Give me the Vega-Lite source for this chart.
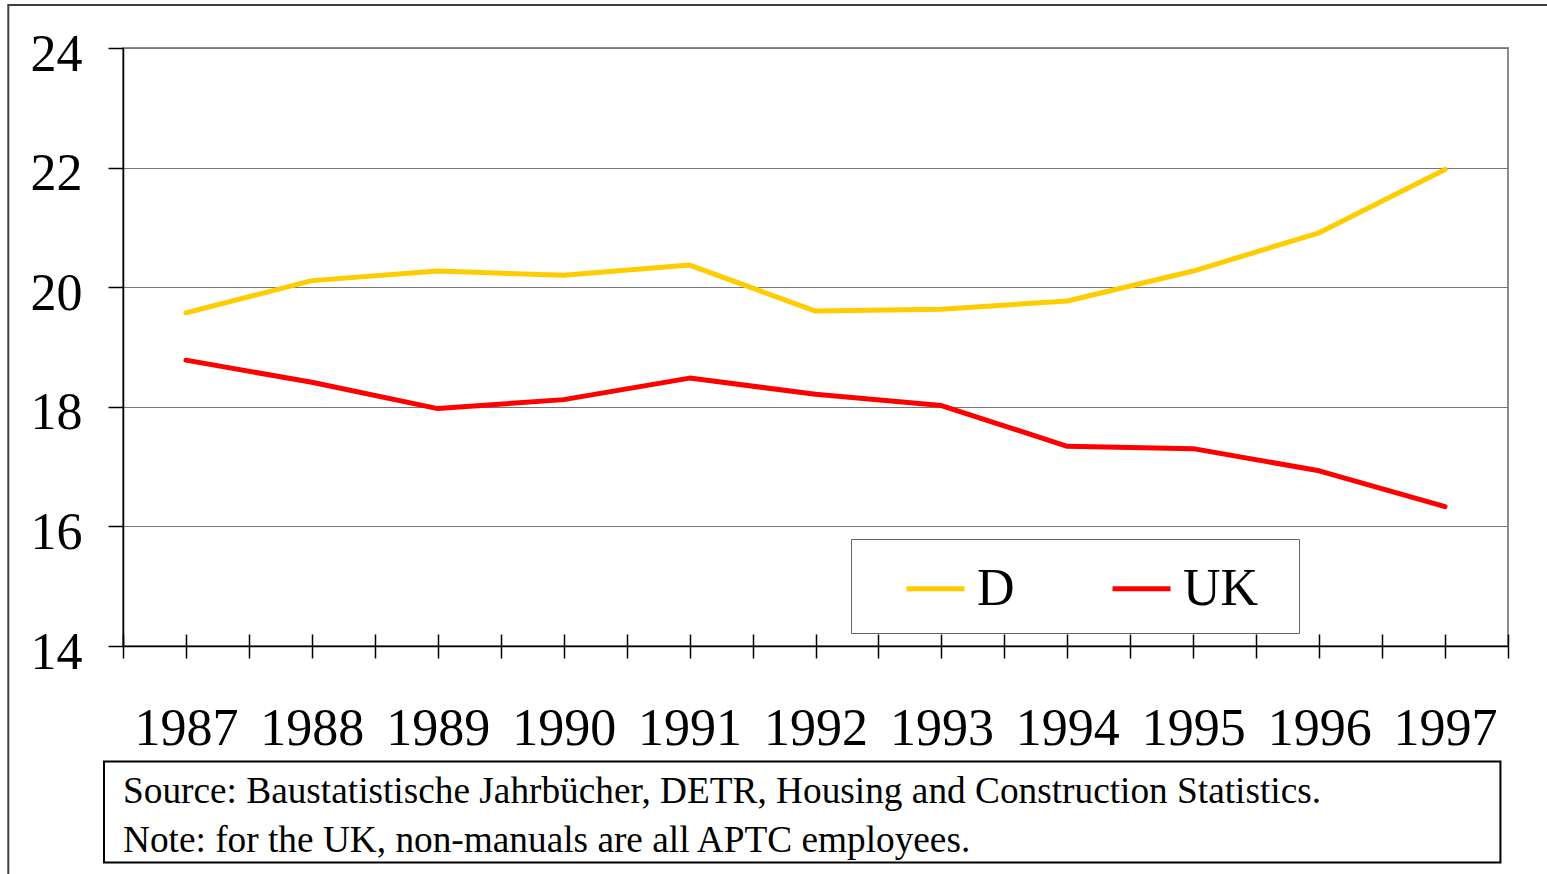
{
  "$schema": "https://vega.github.io/schema/vega-lite/v6.json",
  "width": 1385,
  "height": 598,
  "autosize": "none",
  "padding": {"left": 123, "top": 48, "right": 39, "bottom": 228},
  "background": "white",
  "config": {
    "font": "Liberation Serif",
    "view": {"stroke": "#8c8c8c", "strokeWidth": 2},
    "axis": {
      "domainColor": "black",
      "domainWidth": 1.5,
      "tickColor": "black",
      "tickWidth": 1.5,
      "labelColor": "black",
      "labelFont": "Liberation Serif",
      "labelFontSize": 52,
      "gridColor": "#777777",
      "gridWidth": 1.2
    }
  },
  "resolve": {"axis": {"x": "independent"}},
  "layer": [
    {
      "data": {
        "values": [
          {"year": 1987, "country": "D", "value": 19.57},
          {"year": 1988, "country": "D", "value": 20.11},
          {"year": 1989, "country": "D", "value": 20.27},
          {"year": 1990, "country": "D", "value": 20.2},
          {"year": 1991, "country": "D", "value": 20.37},
          {"year": 1992, "country": "D", "value": 19.6},
          {"year": 1993, "country": "D", "value": 19.63},
          {"year": 1994, "country": "D", "value": 19.77},
          {"year": 1995, "country": "D", "value": 20.27},
          {"year": 1996, "country": "D", "value": 20.91},
          {"year": 1997, "country": "D", "value": 21.97},
          {"year": 1987, "country": "UK", "value": 18.78},
          {"year": 1988, "country": "UK", "value": 18.41},
          {"year": 1989, "country": "UK", "value": 17.97},
          {"year": 1990, "country": "UK", "value": 18.12},
          {"year": 1991, "country": "UK", "value": 18.48},
          {"year": 1992, "country": "UK", "value": 18.21},
          {"year": 1993, "country": "UK", "value": 18.02},
          {"year": 1994, "country": "UK", "value": 17.34},
          {"year": 1995, "country": "UK", "value": 17.3},
          {"year": 1996, "country": "UK", "value": 16.93},
          {"year": 1997, "country": "UK", "value": 16.33}
        ]
      },
      "mark": {"type": "line", "strokeWidth": 5, "strokeCap": "round", "strokeJoin": "round"},
      "encoding": {
        "x": {
          "field": "year",
          "type": "quantitative",
          "scale": {"domain": [1986.5, 1997.5], "nice": false, "zero": false},
          "axis": {
            "orient": "bottom",
            "title": null,
            "values": [1986.5, 1987, 1987.5, 1988, 1988.5, 1989, 1989.5, 1990, 1990.5, 1991, 1991.5, 1992, 1992.5, 1993, 1993.5, 1994, 1994.5, 1995, 1995.5, 1996, 1996.5, 1997, 1997.5],
            "tickSize": 12,
            "labelExpr": "datum.value % 1 === 0 ? format(datum.value, 'd') : ''",
            "labelBaseline": "alphabetic",
            "labelPadding": 86,
            "labelOverlap": false,
            "labelFlush": false,
            "grid": false
          }
        },
        "y": {
          "field": "value",
          "type": "quantitative",
          "scale": {"domain": [14, 24], "nice": false, "zero": false},
          "axis": {
            "title": null,
            "values": [14, 16, 18, 20, 22, 24],
            "format": "d",
            "tickSize": 15,
            "labelPadding": 26,
            "labelBaseline": "alphabetic",
            "labelOffset": 22,
            "grid": true
          }
        },
        "color": {
          "field": "country",
          "type": "nominal",
          "scale": {"domain": ["D", "UK"], "range": ["#FFCC00", "#FF0000"]},
          "legend": {
            "title": " ",
            "titleOrient": "right",
            "titleFontSize": 1,
            "titlePadding": 23,
            "orient": "none",
            "legendX": 728,
            "legendY": 491,
            "direction": "horizontal",
            "symbolType": "stroke",
            "symbolSize": 3364,
            "symbolStrokeWidth": 5,
            "labelFont": "Liberation Serif",
            "labelFontSize": 52,
            "labelColor": "black",
            "labelOffset": 10,
            "columnPadding": 60,
            "padding": 18,
            "strokeColor": "#666666",
            "fillColor": "white",
            "symbolOffset": 35
          }
        }
      }
    },
    {
      "data": {"values": [{}]},
      "mark": {"type": "rect", "fill": "transparent", "stroke": "#404040", "strokeWidth": 2, "clip": false},
      "encoding": {
        "x": {"datum": 1985.589, "type": "quantitative", "axis": null},
        "x2": {"datum": 1999.5},
        "y": {"datum": 24.719, "type": "quantitative", "axis": {"title": null, "format": "d"}},
        "y2": {"datum": 9}
      }
    },
    {
      "data": {"values": [{}]},
      "mark": {"type": "rect", "fill": "transparent", "stroke": "black", "strokeWidth": 2},
      "encoding": {
        "x": {
          "datum": 1986.349,
          "type": "quantitative",
          "axis": {
            "orient": "bottom",
            "title": null,
            "values": [1986.5, 1987, 1987.5, 1988, 1988.5, 1989, 1989.5, 1990, 1990.5, 1991, 1991.5, 1992, 1992.5, 1993, 1993.5, 1994, 1994.5, 1995, 1995.5, 1996, 1996.5, 1997, 1997.5],
            "tickSize": -12,
            "labels": false,
            "domain": false,
            "grid": false
          }
        },
        "x2": {"datum": 1997.44},
        "y": {"datum": 12.069, "type": "quantitative", "axis": {"title": null, "format": "d"}},
        "y2": {"datum": 10.38}
      }
    },
    {
      "data": {"values": [{}]},
      "mark": {
        "type": "text",
        "align": "left",
        "baseline": "alphabetic",
        "font": "Liberation Serif",
        "fontSize": 37.3,
        "lineHeight": 49,
        "color": "black",
        "text": ["Source: Baustatistische Jahrbücher, DETR, Housing and Construction Statistics.", "Note: for the UK, non-manuals are all APTC employees."]
      },
      "encoding": {
        "x": {"datum": 1986.5, "type": "quantitative", "axis": null},
        "y": {"datum": 11.37, "type": "quantitative", "axis": {"title": null, "format": "d"}}
      }
    }
  ]
}
